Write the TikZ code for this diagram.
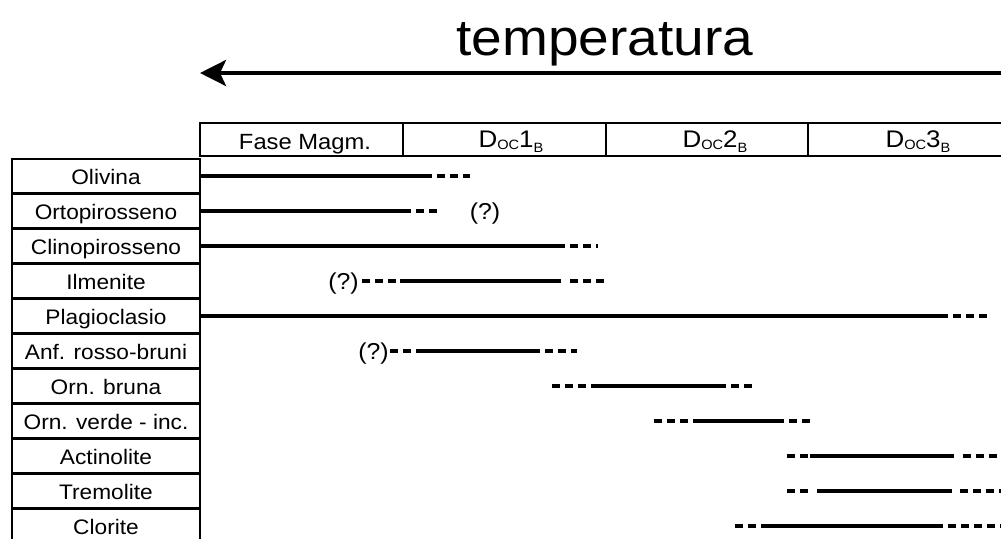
\documentclass[tikz,border=0pt]{standalone}
\usepackage{fontspec}
\setmainfont{Liberation Sans}[FakeStretch=1.08]
\usetikzlibrary{arrows.meta}
\newcommand\Dlab[1]{{\fontsize{24}{26}\selectfont D}{\fontsize{13.5}{14}\selectfont\raisebox{-2pt}{OC}}{\fontsize{24}{26}\selectfont #1}{\fontsize{13.5}{14}\selectfont\raisebox{-5pt}{B}}}
\begin{document}
\begin{tikzpicture}[x=1pt,y=-1pt,
  gridline/.style={line width=2.5pt},
  solidbar/.style={line width=4.2pt},
  dashbar/.style={line width=4.2pt, dash pattern=on 8pt off 5pt},
  rowlab/.style={anchor=base, inner sep=0pt, font=\fontsize{21}{24}\selectfont},
  qmark/.style={anchor=base, inner sep=0pt, font=\fontsize{23}{26}\selectfont},
  headlab/.style={anchor=base, inner sep=0pt, font=\fontsize{22}{24}\selectfont},
]
\clip (0,0) rectangle (1001,538);
\fill[white] (0,0) rectangle (1001,538);

% title and arrow
\node[anchor=base, inner sep=0pt, font=\fontsize{51}{58}\selectfont] (title) at (605,55) {temperatura};
\coordinate (arrR) at (1010,73);
\coordinate (arrL) at (200,73);
\draw[line width=4pt, -{Stealth[length=26pt,width=26pt,inset=6pt]}] (arrR) -- (arrL);

% header
\draw[gridline] (200,123) rectangle (1010,156);
\foreach \x in {403,606,808} \draw[gridline] (\x,123) -- (\x,156);
\node[headlab] (h0) at (305,149) {Fase Magm.};
\node[headlab] (h1) at (511,147) {\Dlab{1}};
\node[headlab] (h2) at (715,147) {\Dlab{2}};
\node[headlab] (h3) at (918,147) {\Dlab{3}};

% left table
\draw[gridline] (12,159) rectangle (200,545);
\foreach \k in {0,...,9} \draw[gridline] (12,193.5+35*\k) -- (200,193.5+35*\k);

\foreach \t [count=\i] in {Olivina,Ortopirosseno,Clinopirosseno,Ilmenite,Plagioclasio,Anf. rosso-bruni,Orn. bruna,Orn. verde - inc.,Actinolite,Tremolite,Clorite}
  \node[rowlab] (lab\i) at (106,{176+35*(\i-1)+8}) {\t};

% bars
% Olivina y=176
\draw[solidbar] (200,176) -- (424,176);
\draw[dashbar] (424,176) -- (470,176);
% Ortopirosseno y=211
\draw[solidbar] (200,211) -- (403,211);
\draw[dashbar] (403,211) -- (440,211);
\node[qmark] (q1) at (485,219.5) {(?)};
% Clinopirosseno y=246
\draw[solidbar] (200,246) -- (557,246);
\draw[dashbar] (557,246) -- (598,246);
% Ilmenite y=281
\node[qmark] (q2) at (343.5,289.5) {(?)};
\draw[dashbar] (362,281) -- (400,281);
\draw[solidbar] (400,281) -- (561,281);
\draw[dashbar] (570,281) -- (606,281);
% Plagioclasio y=316
\draw[solidbar] (200,316) -- (940,316);
\draw[dashbar] (940,316) -- (990,316);
% Anf. rosso-bruni y=351
\node[qmark] (q3) at (373.5,359.5) {(?)};
\draw[dashbar] (390,351) -- (417,351);
\draw[solidbar] (417,351) -- (532,351);
\draw[dashbar] (532,351) -- (577,351);
% Orn. bruna y=386
\draw[dashbar] (552,386) -- (592,386);
\draw[solidbar] (592,386) -- (718,386);
\draw[dashbar] (718,386) -- (753,386);
% Orn. verde y=421
\draw[dashbar] (654,421) -- (694,421);
\draw[solidbar] (694,421) -- (776,421);
\draw[dashbar] (776,421) -- (810,421);
% Actinolite y=456
\draw[dashbar] (787,456) -- (810,456);
\draw[solidbar] (810,456) -- (954,456);
\draw[dashbar] (963,456) -- (1005,456);
% Tremolite y=491
\draw[dashbar] (787,491) -- (808,491);
\draw[solidbar] (817,491) -- (952,491);
\draw[dashbar] (960,491) -- (1005,491);
% Clorite y=526
\draw[dashbar] (735,526) -- (763,526);
\draw[solidbar] (763,526) -- (943,526);
\draw[dashbar] (948,526) -- (1005,526);
\end{tikzpicture}
\end{document}
